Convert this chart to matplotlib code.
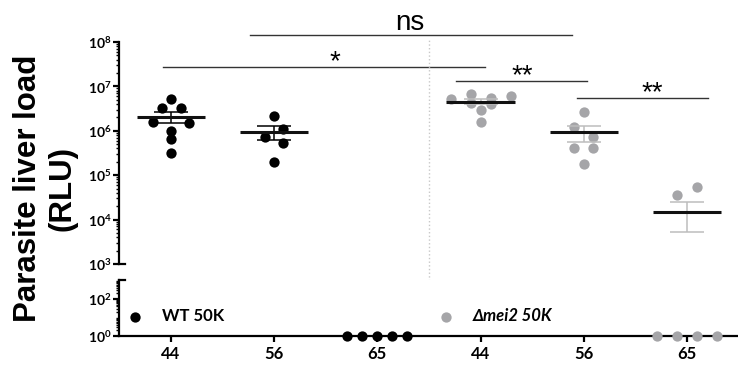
import numpy as np
from matplotlib import pyplot as plt
from matplotlib.ticker import LogLocator, NullFormatter

plt.rcParams['font.family'] = ['Lato', 'DejaVu Sans']
plt.rcParams['font.weight'] = 'bold'
plt.rcParams['mathtext.fontset'] = 'custom'
plt.rcParams['mathtext.rm'] = 'Lato:bold'
plt.rcParams['mathtext.bf'] = 'Lato:bold'

# data (RLU per mouse, 0 = below detection)
doses = ['44', '56', '65', '44', '56', '65']
wt_44 = [5.2e6, 3.2e6, 3.2e6, 1.55e6, 1.5e6, 1.0e6, 6.5e5, 3.1e5]
wt_56 = [2.1e6, 1.07e6, 7.4e5, 5.4e5, 2.0e5]
wt_65 = [0, 0, 0, 0, 0]
mei2_44 = [5.2e6, 6.8e6, 5.4e6, 6.2e6, 4.2e6, 4.0e6, 2.9e6, 1.6e6]
mei2_56 = [2.6e6, 1.2e6, 7.4e5, 4.2e5, 4.0e5, 1.8e5]
mei2_65 = [3.5e4, 5.4e4, 0, 0, 0, 0]

groups = [wt_44, wt_56, wt_65, mei2_44, mei2_56, mei2_65]
strain = ['WT 50K', 'WT 50K', 'WT 50K', 'Δmei2 50K', 'Δmei2 50K', 'Δmei2 50K']

# horizontal scatter of dots inside a column (pixels)
spread = [[0, -9, 10, -18, 18, 0, 0, 0],
          [0, 9, -9, 9, 0],
          [-30, -15, 0, 15, 30],
          [-30, -10, 10, 30, -10, 10, 0, 0],
          [0, -10, 9, -10, 9, 0],
          [-10, 10, -30, -10, 10, 30]]
px = 103.3

# significance brackets: x1, x2, log10 y, label, label x
sig = [(0.765, 3.88, 8.158, 'ns', 2.32),
       (-0.077, 3.04, 7.44, '*', 1.59),
       (2.76, 4.03, 7.128, '**', 3.40),
       (3.93, 5.20, 6.745, '**', 4.66)]

dot_col = {'WT 50K': 'black', 'Δmei2 50K': '#a5a5a8'}
err_col = {'WT 50K': 'black', 'Δmei2 50K': '#bdbdbd'}

fig = plt.figure(figsize=(7.38, 3.66), dpi=100)
ax_t = fig.add_axes([0.1612, 0.2787, 0.84, 0.6066])
ax_b = fig.add_axes([0.1612, 0.082, 0.84, 0.153])

handles = {}
for i, vals in enumerate(groups):
    v = np.array(vals, dtype=float)
    xs = i + np.array(spread[i]) / px
    c = dot_col[strain[i]]
    hi = v >= 1e3
    ax_t.scatter(xs[hi], v[hi], s=55, color=c, zorder=2, linewidths=0)
    h = ax_b.scatter(xs[~hi], np.where(v[~hi] > 0, v[~hi], 1), s=55, color=c,
                     zorder=3, linewidths=0, clip_on=False)
    handles[strain[i]] = h
    m = v.mean()
    sem = v.std(ddof=1) / np.sqrt(len(v))
    if m > 0:
        ax_t.errorbar(i, m, yerr=sem, fmt='none', ecolor=err_col[strain[i]],
                      elinewidth=1.1, capsize=12, capthick=1.1, zorder=3)
        ax_t.hlines(m, i - 0.33, i + 0.33, color='#111111', lw=2.2, zorder=4)

for x1, x2, ly, lab, xt in sig:
    ax_t.plot([x1, x2], [10 ** ly, 10 ** ly], color='#333333', lw=1.0, clip_on=False)
    dy = 3.6 if lab == 'ns' else -2
    ax_t.annotate(lab, (xt, 10 ** ly), xytext=(0, dy), textcoords='offset points',
                  ha='center', va='baseline', fontsize=20, fontweight='normal',
                  family='Liberation Sans', annotation_clip=False)

# dotted divider between strains
ax_t.axvline(2.5, ymin=-0.324, ymax=1.01, color='#c8c8c8', ls=':', lw=1.0, clip_on=False)

for ax in (ax_t, ax_b):
    ax.set_yscale('log')
    ax.set_xlim(-0.5, 5.5)
    ax.spines['top'].set_visible(False)
    ax.spines['right'].set_visible(False)
    ax.spines['left'].set_linewidth(1.6)
    ax.yaxis.set_minor_locator(LogLocator(base=10, subs=np.arange(2, 10), numticks=20))
    ax.yaxis.set_minor_formatter(NullFormatter())
    ax.tick_params(axis='y', which='major', length=4.5, width=1.6, labelsize=10, pad=1)
    ax.tick_params(axis='y', which='minor', length=2.5, width=1.0)

ax_t.set_ylim(1e3, 1e8)
ax_t.set_yticks([10.0 ** k for k in range(3, 9)])
ax_t.set_yticklabels(['$10^{%d}$' % k for k in range(3, 9)])
ax_t.spines['bottom'].set_visible(False)
ax_t.set_xticks([])
ax_t.plot([0, 0.009], [0, 0], transform=ax_t.transAxes, color='black', lw=1.6, clip_on=False)

ax_b.set_ylim(1, 10 ** 3.03)
ax_b.set_yticks([1, 100])
ax_b.set_yticklabels(['$10^{0}$', '$10^{2}$'])
ax_b.spines['bottom'].set_linewidth(1.6)
ax_b.set_xticks(range(len(doses)))
ax_b.set_xticklabels(doses)
ax_b.tick_params(axis='x', length=4.5, width=1.6, labelsize=12, pad=3)
ax_b.plot([0, 0.009], [1, 1], transform=ax_b.transAxes, color='black', lw=1.6, clip_on=False)

leg1 = ax_b.legend([handles['WT 50K']], ['WT 50K'], loc='center left',
                   bbox_to_anchor=(0.0124, 0.357), frameon=False,
                   prop={'size': 12, 'weight': 'bold'},
                   handlelength=1, handletextpad=1.1, borderpad=0, borderaxespad=0)
ax_b.add_artist(leg1)
ax_b.legend([handles['Δmei2 50K']], ['Δmei2 50K'], loc='center left',
            bbox_to_anchor=(0.514, 0.357), frameon=False,
            prop={'size': 12, 'weight': 'bold', 'style': 'italic'},
            handlelength=1, handletextpad=1.1, borderpad=0, borderaxespad=0)

fig.text(0.061, 0.486, 'Parasite liver load\n(RLU)', rotation=90, ha='center', va='center',
         multialignment='center', fontsize=22.5, fontweight='bold', family='Liberation Sans')

plt.savefig('out.png', dpi=100)
